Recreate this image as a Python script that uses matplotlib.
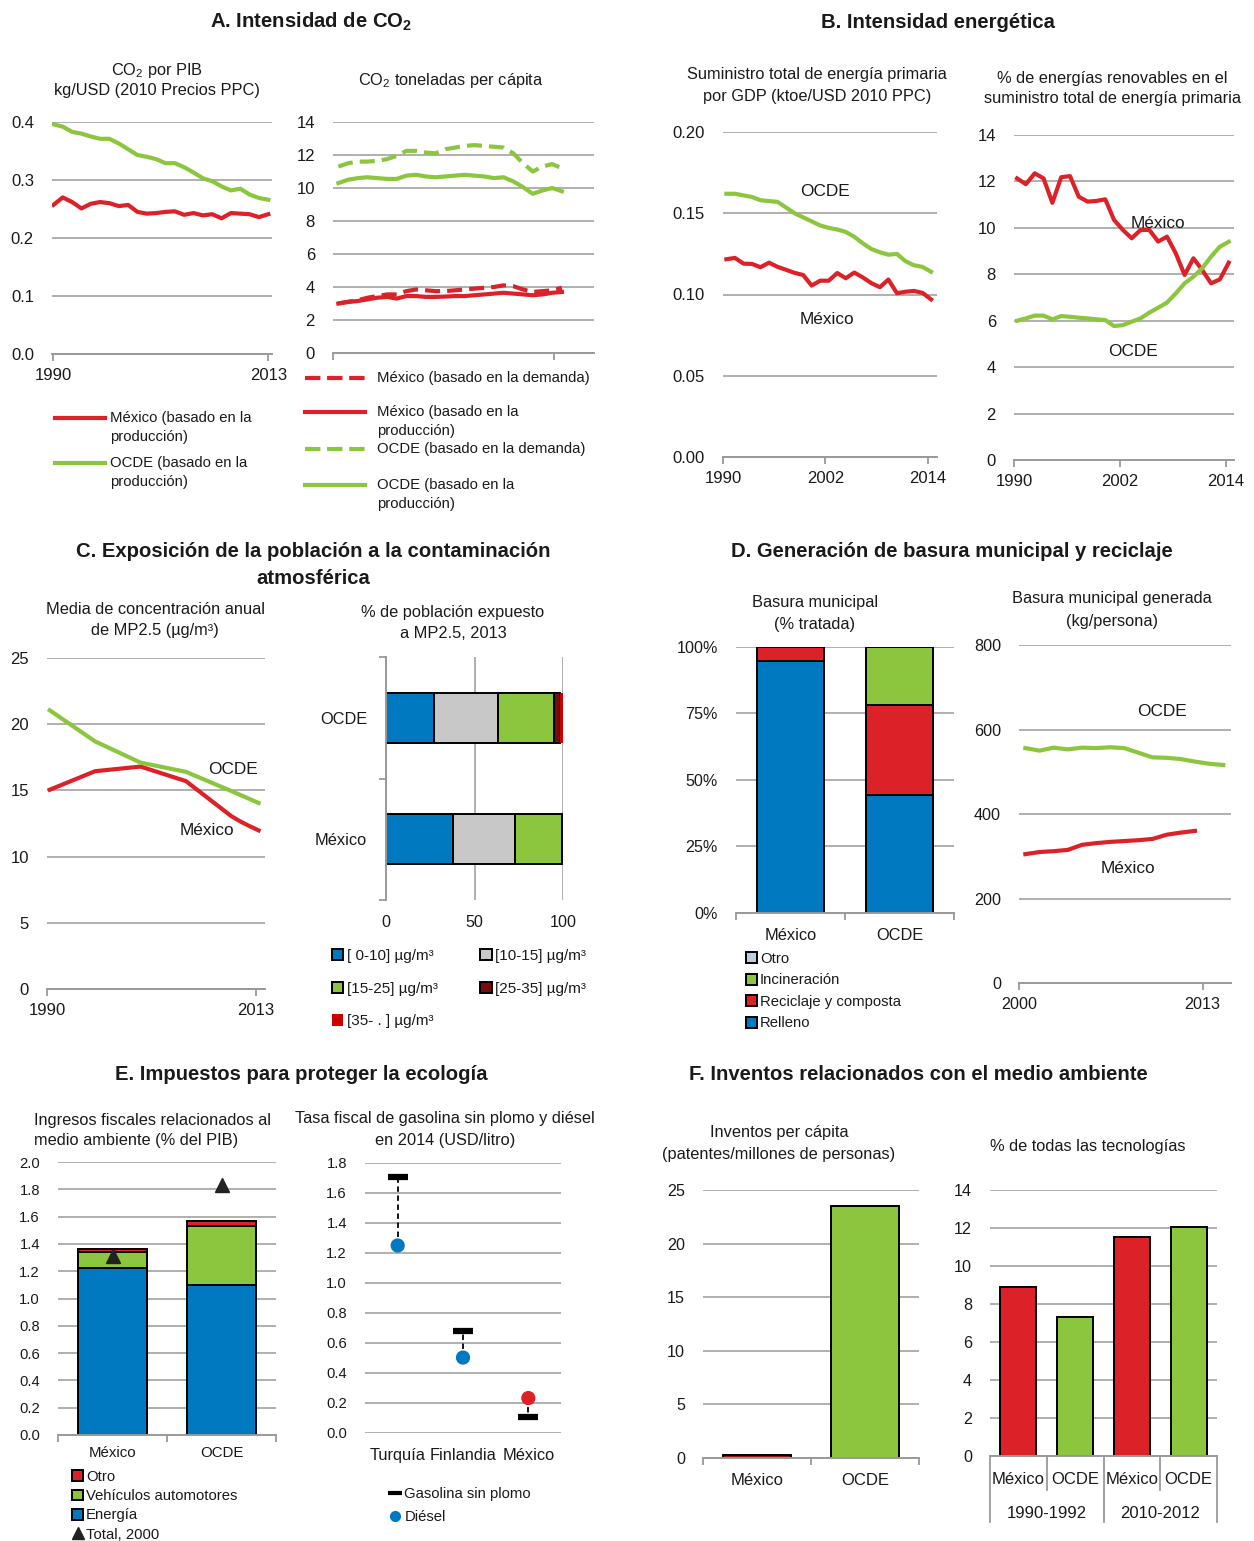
import matplotlib
matplotlib.use("Agg")
import matplotlib.pyplot as plt
from matplotlib.lines import Line2D
import numpy as np

plt.rcParams['font.family'] = ['Liberation Sans', 'DejaVu Sans']
plt.rcParams['mathtext.fontset'] = 'custom'
plt.rcParams['mathtext.rm'] = 'Liberation Sans'
plt.rcParams['mathtext.bf'] = 'Liberation Sans:bold'
plt.rcParams['mathtext.it'] = 'Liberation Sans:italic'
plt.rcParams['text.color'] = '#1a1a1a'
plt.rcParams['xtick.color'] = '#1a1a1a'
plt.rcParams['ytick.color'] = '#1a1a1a'

W, H = 1254, 1541
RED = '#DC2228'
GREEN = '#8CC63F'
BLUE = '#0079C1'
GREY = '#C8C8C8'
GRID = '#9A9A9A'
TITLE_FS = 14.6
SUB_FS = 11.8
LAB_FS = 12.4

#-------------------------------------------------------------------------------
# Data

years_a = np.arange(1990, 2014)
co2_gdp_oecd = [0.396, 0.392, 0.383, 0.380, 0.375, 0.371, 0.371, 0.363, 0.353, 0.343, 0.340, 0.336,
                0.329, 0.329, 0.322, 0.313, 0.303, 0.298, 0.289, 0.282, 0.285, 0.275, 0.269, 0.266]
co2_gdp_mex = [0.257, 0.270, 0.262, 0.251, 0.259, 0.262, 0.260, 0.255, 0.257, 0.245, 0.242, 0.243,
               0.245, 0.246, 0.240, 0.243, 0.239, 0.241, 0.234, 0.243, 0.242, 0.241, 0.236, 0.241]
co2_cap_oecd_dem = [11.3, 11.5, 11.6, 11.6, 11.65, 11.75, 11.95, 12.25, 12.25, 12.15, 12.1, 12.35,
                    12.45, 12.55, 12.6, 12.55, 12.5, 12.45, 12.1, 11.5, 11.0, 11.3, 11.45, 11.2]
co2_cap_oecd_prod = [10.3, 10.5, 10.6, 10.65, 10.6, 10.55, 10.55, 10.75, 10.8, 10.7, 10.65, 10.7,
                     10.75, 10.8, 10.75, 10.7, 10.6, 10.65, 10.4, 10.05, 9.65, 9.85, 10.0, 9.8]
co2_cap_mex_dem = [3.0, 3.1, 3.2, 3.35, 3.45, 3.55, 3.55, 3.75, 3.85, 3.8, 3.75, 3.75,
                   3.8, 3.85, 3.9, 3.95, 4.0, 4.1, 4.05, 3.85, 3.7, 3.75, 3.8, 3.95]
co2_cap_mex_prod = [3.0, 3.1, 3.15, 3.25, 3.35, 3.4, 3.3, 3.45, 3.45, 3.4, 3.4, 3.42,
                    3.45, 3.45, 3.5, 3.55, 3.6, 3.65, 3.6, 3.55, 3.5, 3.55, 3.65, 3.7]

years_b = np.arange(1990, 2015)
tpes_gdp_oecd = [0.162, 0.162, 0.161, 0.160, 0.158, 0.1575, 0.157, 0.1535, 0.150, 0.1475, 0.145, 0.1425,
                 0.141, 0.140, 0.1385, 0.1355, 0.1315, 0.128, 0.126, 0.1245, 0.125, 0.1205, 0.118, 0.117, 0.114]
tpes_gdp_mex = [0.1217, 0.1225, 0.119, 0.1188, 0.1168, 0.1196, 0.117, 0.1152, 0.1133, 0.112, 0.1055, 0.1085,
                0.1085, 0.1132, 0.110, 0.1135, 0.1105, 0.107, 0.1045, 0.1092, 0.1008, 0.1017, 0.1022, 0.101, 0.097]
renew_mex = [12.13, 11.88, 12.35, 12.13, 11.08, 12.18, 12.23, 11.34, 11.13, 11.16, 11.23, 10.34, 9.91,
             9.55, 9.91, 9.91, 9.41, 9.62, 8.9, 7.97, 8.69, 8.18, 7.61, 7.78, 8.5]
renew_oecd = [6.0, 6.1, 6.22, 6.22, 6.06, 6.2, 6.17, 6.13, 6.1, 6.06, 6.03, 5.77, 5.81,
              5.96, 6.1, 6.35, 6.56, 6.78, 7.18, 7.61, 7.9, 8.26, 8.76, 9.19, 9.4]

years_c = np.array([1990, 1995, 2000, 2005, 2010, 2011, 2012, 2013])
pm25_oecd = [21.05, 18.7, 17.1, 16.4, 14.95, 14.65, 14.35, 14.05]
pm25_mex = [15.05, 16.45, 16.8, 15.7, 13.05, 12.65, 12.3, 11.98]

pm_bins = ['[ 0-10] µg/m³', '[10-15] µg/m³', '[15-25] µg/m³', '[25-35] µg/m³', '[35- . ] µg/m³']
pm_share_mex = [37.7, 35.3, 26.4, 0.6, 0.0]
pm_share_oecd = [27.4, 35.6, 31.7, 3.8, 1.5]

waste_cats = ['México', 'OCDE']
waste_landfill = [94.9, 44.2]
waste_recycling = [5.1, 34.1]
waste_incineration = [0.0, 21.7]
waste_other = [0.0, 0.0]

years_d_oecd = np.arange(2000, 2015)
waste_gen_oecd = [556, 550, 557, 553, 557, 556, 558, 556, 545, 534, 533, 530, 524, 519, 516]
years_d_mex = np.arange(2000, 2013)
waste_gen_mex = [305, 310, 312, 315, 327, 331, 334, 336, 338, 341, 351, 356, 360]

tax_cats = ['México', 'OCDE']
tax_energy = [1.22, 1.10]
tax_vehicles = [0.12, 0.43]
tax_other = [0.025, 0.04]
tax_total_2000 = [1.31, 1.83]

fuel_countries = ['Turquía', 'Finlandia', 'México']
fuel_petrol = [1.707, 0.678, 0.104]
fuel_diesel = [1.25, 0.503, 0.233]

pat_cats = ['México', 'OCDE']
pat_per_capita = [0.3, 23.5]

tech_periods = ['1990-1992', '2010-2012']
tech_mex = [8.87, 11.54]
tech_oecd = [7.29, 12.03]

#-------------------------------------------------------------------------------

def px(l, t, r, b):
  """ Axes rectangle from pixel box (left, top, right, bottom). """
  return [l/W, 1 - b/H, (r - l)/W, (b - t)/H]

def ftext(fig, x, y, s, **kwargs):
  """ Figure text at pixel position. """
  kw = dict(ha='center', va='center', fontsize=SUB_FS)
  kw.update(kwargs)
  return fig.text(x/W, 1 - y/H, s, **kw)

def style_ax(ax, ylim, yticks, ylabels=None, fs=12):
  """ Excel-like look: horizontal grid, grey bottom axis, no frame. """
  ax.set_ylim(*ylim)
  ax.set_yticks(yticks)
  if ylabels is not None:
    ax.set_yticklabels(ylabels)
  for s in ['top', 'right', 'left']:
    ax.spines[s].set_visible(False)
  ax.spines['bottom'].set_color(GRID)
  ax.spines['bottom'].set_linewidth(1.4)
  ax.grid(True, axis='y', color=GRID, lw=1.1)
  ax.set_axisbelow(True)
  ax.tick_params(axis='y', length=0, pad=13, labelsize=fs)
  ax.tick_params(axis='x', which='both', length=5, width=1.3, color=GRID, labelsize=fs, pad=5)

def cat_ticks(ax, n, labels, fs=12, pad=5):
  """ Category labels centred, tick marks between the categories. """
  ax.set_xlim(-0.5, n - 0.5)
  ax.set_xticks(np.arange(n))
  ax.set_xticklabels(labels)
  ax.set_xticks(np.arange(n + 1) - 0.5, minor=True)
  ax.tick_params(axis='x', which='major', length=0, labelsize=fs, pad=pad)

def legend_line(fig, line, x0, x1, y, text, tx, fs=10.7):
  """ Excel-style legend entry: handle aligned with the first text line. """
  fig.add_artist(Line2D([x0/W, x1/W], [1 - y/H]*2, transform=fig.transFigure,
                        color=line.get_color(), ls=line.get_linestyle(), lw=line.get_linewidth()))
  for i, part in enumerate(text.split("\n")):
    ftext(fig, tx, y + i*19, part, ha='left', fontsize=fs)

def square_legend(ax, fig, handles, labels, x, y, fs=10.7, **kwargs):
  kw = dict(loc='upper left', bbox_to_anchor=(x/W, 1 - y/H), bbox_transform=fig.transFigure,
            frameon=False, borderpad=0, borderaxespad=0, fontsize=fs,
            handlelength=0.75, handleheight=0.75, handletextpad=0.2)
  kw.update(kwargs)
  return ax.legend(handles, labels, **kw)

#-------------------------------------------------------------------------------

def plot_a(fig):
  ftext(fig, 311, 22, r"A. Intensidad de CO$_\mathbf{2}$", fontsize=TITLE_FS, fontweight='bold')
  ftext(fig, 157, 70, r"CO$_2$ por PIB")
  ftext(fig, 157, 91, "kg/USD (2010 Precios PPC)")
  ftext(fig, 451, 80, r"CO$_2$ toneladas per cápita")

  ax = fig.add_axes(px(52, 122, 272, 354))
  l_mex, = ax.plot(years_a, co2_gdp_mex, color=RED, lw=3)
  l_oecd, = ax.plot(years_a, co2_gdp_oecd, color=GREEN, lw=3)
  style_ax(ax, (0, 0.4), np.arange(0, 0.41, 0.1), ["0.0", "0.1", "0.2", "0.3", "0.4"])
  ax.set_xlim(1989.85, 2013.4)
  ax.set_xticks([1990, 2013])
  legend_line(fig, l_mex, 55, 105, 418, "México (basado en la\nproducción)", 110)
  legend_line(fig, l_oecd, 55, 105, 463, "OCDE (basado en la\nproducción)", 110)

  ax = fig.add_axes(px(333, 122, 594, 353))
  dash = (0, (3.6, 1.7))
  l1, = ax.plot(years_a, co2_cap_mex_dem, color=RED, lw=3, ls=dash)
  l2, = ax.plot(years_a, co2_cap_mex_prod, color=RED, lw=3)
  l3, = ax.plot(years_a, co2_cap_oecd_dem, color=GREEN, lw=3, ls=dash)
  l4, = ax.plot(years_a, co2_cap_oecd_prod, color=GREEN, lw=3)
  style_ax(ax, (0, 14), np.arange(0, 15, 2))
  ax.set_xlim(1989.45, 2016.3)
  ax.set_xticks([1989.5, 2012.2])
  ax.set_xticklabels([])
  legend_line(fig, l1, 305, 365, 378, "México (basado en la demanda)", 377)
  legend_line(fig, l2, 305, 365, 412, "México (basado en la\nproducción)", 377)
  legend_line(fig, l3, 305, 365, 449, "OCDE (basado en la demanda)", 377)
  legend_line(fig, l4, 305, 365, 485, "OCDE (basado en la\nproducción)", 377)

def plot_b(fig):
  ftext(fig, 938, 22, "B. Intensidad energética", fontsize=TITLE_FS, fontweight='bold')
  ftext(fig, 817, 75, "Suministro total de energía primaria")
  ftext(fig, 817, 96, "por GDP (ktoe/USD 2010 PPC)")
  ftext(fig, 1112, 78, "% de energías renovables en el")
  ftext(fig, 1112, 99, "suministro total de energía primaria")

  ax = fig.add_axes(px(723, 132, 937, 457))
  ax.plot(years_b + 0.4, tpes_gdp_mex, color=RED, lw=3)
  ax.plot(years_b + 0.4, tpes_gdp_oecd, color=GREEN, lw=3)
  style_ax(ax, (0, 0.2), np.arange(0, 0.21, 0.05), ["0.00", "0.05", "0.10", "0.15", "0.20"])
  ax.set_xlim(1990, 2015.1)
  ax.set_xticks([1990, 2002, 2014])
  ftext(fig, 825, 192, "OCDE", fontsize=LAB_FS)
  ftext(fig, 827, 319, "México", fontsize=LAB_FS)

  ax = fig.add_axes(px(1014, 135, 1234, 460))
  ax.plot(years_b + 0.35, renew_mex, color=RED, lw=3)
  ax.plot(years_b + 0.35, renew_oecd, color=GREEN, lw=3)
  style_ax(ax, (0, 14), np.arange(0, 15, 2))
  ax.set_xlim(1990, 2014.95)
  ax.set_xticks([1990, 2002, 2014])
  ftext(fig, 1158, 224, "México", fontsize=LAB_FS)
  ftext(fig, 1133, 352, "OCDE", fontsize=LAB_FS)

def plot_c(fig):
  ftext(fig, 313, 552, "C. Exposición de la población a la contaminación", fontsize=TITLE_FS, fontweight='bold')
  ftext(fig, 313, 578, "atmosférica", fontsize=TITLE_FS, fontweight='bold')
  ftext(fig, 155, 609, "Media de concentración anual")
  ftext(fig, 155, 630, "de MP2.5 (µg/m³)")
  ftext(fig, 453, 612, "% de población expuesto")
  ftext(fig, 453, 633, "a MP2.5, 2013")

  ax = fig.add_axes(px(47, 658, 265, 989))
  ax.plot(years_c + 0.3, pm25_mex, color=RED, lw=3)
  ax.plot(years_c + 0.3, pm25_oecd, color=GREEN, lw=3)
  style_ax(ax, (0, 25), np.arange(0, 26, 5))
  ax.set_xlim(1990, 2014)
  ax.set_xticks([1990, 2013])
  ftext(fig, 233, 769, "OCDE", fontsize=LAB_FS)
  ftext(fig, 207, 830, "México", fontsize=LAB_FS)

  ax = fig.add_axes(px(386, 657, 563, 900))
  colors = [BLUE, GREY, GREEN, '#7B0B0B', '#CC0000']
  shares = np.array([pm_share_mex, pm_share_oecd])
  left = np.zeros(2)
  handles = []
  for i, label in enumerate(pm_bins):
    edge = 'black' if i < 4 else 'none'
    b = ax.barh([0, 1], shares[:, i], left=left, height=0.41, color=colors[i],
                edgecolor=edge, lw=1.4, label=label)
    handles.append(b)
    left += shares[:, i]
  ax.set_xlim(0, 100)
  ax.set_ylim(-0.5, 1.5)
  ax.set_yticks([0, 1])
  ax.set_yticklabels(['México', 'OCDE'])
  ax.set_yticks([-0.5, 0.5, 1.5], minor=True)
  ax.set_xticks([0, 50, 100])
  for s in ['top', 'right', 'bottom']:
    ax.spines[s].set_visible(False)
  ax.spines['left'].set_color(GRID)
  ax.spines['left'].set_linewidth(1.4)
  ax.grid(True, axis='x', color=GRID, lw=1.1)
  ax.set_axisbelow(True)
  ax.tick_params(axis='y', which='major', length=0, pad=13.5, labelsize=SUB_FS)
  ax.tick_params(axis='y', which='minor', length=5, width=1.3, color=GRID)
  ax.tick_params(axis='x', length=0, pad=11, labelsize=11.6)
  order = [0, 2, 4, 1, 3]
  square_legend(ax, fig, [handles[i] for i in order], [pm_bins[i] for i in order], 332, 949,
                fs=11, ncol=2, labelspacing=1.22, columnspacing=2.8)

def plot_d(fig):
  ftext(fig, 952, 552, "D. Generación de basura municipal y reciclaje", fontsize=TITLE_FS, fontweight='bold')
  ftext(fig, 815, 602, "Basura municipal")
  ftext(fig, 815, 624, "(% tratada)")
  ftext(fig, 1112, 599, "Basura municipal generada")
  ftext(fig, 1112, 621, "(kg/persona)")

  ax = fig.add_axes(px(736, 647, 954, 913))
  x = np.arange(len(waste_cats))
  bottom = np.zeros(2)
  handles = []
  for vals, color, name in [(waste_landfill, BLUE, 'Relleno'),
                            (waste_recycling, RED, 'Reciclaje y composta'),
                            (waste_incineration, GREEN, 'Incineración'),
                            (waste_other, '#B9CDE5', 'Otro')]:
    b = ax.bar(x, vals, bottom=bottom, width=0.62, color=color, edgecolor='black', lw=1.4, label=name)
    handles.append(b)
    bottom += np.array(vals)
  style_ax(ax, (0, 100), [0, 25, 50, 75, 100], ["0%", "25%", "50%", "75%", "100%"], fs=11.6)
  cat_ticks(ax, 2, waste_cats, fs=SUB_FS, pad=11)
  handles = handles[::-1]
  square_legend(ax, fig, handles, [h.get_label() for h in handles], 746, 952, labelspacing=0.5)

  ax = fig.add_axes(px(1019, 645, 1231, 983))
  ax.plot(years_d_oecd + 0.45, waste_gen_oecd, color=GREEN, lw=3)
  ax.plot(years_d_mex + 0.45, waste_gen_mex, color=RED, lw=3)
  style_ax(ax, (0, 800), np.arange(0, 801, 200), fs=11.6)
  ax.set_xlim(2000, 2015)
  ax.set_xticks([2000, 2013])
  ftext(fig, 1162, 712, "OCDE", fontsize=LAB_FS)
  ftext(fig, 1128, 868, "México", fontsize=LAB_FS)

def plot_e(fig):
  ftext(fig, 301, 1075, "E. Impuestos para proteger la ecología", fontsize=TITLE_FS, fontweight='bold')
  ftext(fig, 34, 1121, "Ingresos fiscales relacionados al", ha='left')
  ftext(fig, 34, 1141, "medio ambiente (% del PIB)", ha='left')
  ftext(fig, 445, 1119, "Tasa fiscal de gasolina sin plomo y diésel")
  ftext(fig, 445, 1140, "en 2014 (USD/litro)")

  tick_fmt = lambda vals: ["%.1f" % v for v in vals]
  ax = fig.add_axes(px(58, 1162, 276, 1435))
  x = np.arange(len(tax_cats))
  b1 = ax.bar(x, tax_energy, width=0.63, color=BLUE, edgecolor='black', lw=1.4, label='Energía')
  b2 = ax.bar(x, tax_vehicles, bottom=tax_energy, width=0.63, color=GREEN, edgecolor='black', lw=1.4,
              label='Vehículos automotores')
  b3 = ax.bar(x, tax_other, bottom=np.add(tax_energy, tax_vehicles), width=0.63, color=RED,
              edgecolor='black', lw=1.4, label='Otro')
  ax.plot(x, tax_total_2000, ls='', marker='^', ms=10, color='#222222')
  t = Line2D([], [], ls='', marker='^', ms=8, color='#222222')
  yt = np.arange(0, 2.01, 0.2)
  style_ax(ax, (0, 2.0), yt, tick_fmt(yt), fs=10.6)
  cat_ticks(ax, 2, tax_cats, fs=10.8, pad=8)
  square_legend(ax, fig, [b3, b2, b1, t], ['Otro', 'Vehículos automotores', 'Energía', 'Total, 2000'],
                72, 1470, labelspacing=0.35)

  ax = fig.add_axes(px(365, 1163, 561, 1433))
  x = np.arange(len(fuel_countries))
  ax.vlines(x, fuel_diesel, fuel_petrol, colors='black', linestyles=(0, (3, 2)), lw=1.3)
  ax.plot(x, fuel_petrol, ls='', marker='_', ms=15, mew=4.5, color='black')
  ax.scatter(x, fuel_diesel, s=85, c=[BLUE, BLUE, RED], zorder=3)
  p = Line2D([], [], ls='', marker='_', ms=10, mew=3, color='black')
  d = Line2D([], [], ls='', marker='o', ms=7, color=BLUE)
  yt = np.arange(0, 1.81, 0.2)
  style_ax(ax, (0, 1.8), yt, tick_fmt(yt), fs=10.6)
  ax.spines['bottom'].set_visible(False)
  ax.set_xlim(-0.5, 2.5)
  ax.set_xticks(x)
  ax.set_xticklabels(fuel_countries)
  ax.tick_params(axis='x', length=0, pad=11, labelsize=SUB_FS)
  square_legend(ax, fig, [p, d], ['Gasolina sin plomo', 'Diésel'], 388, 1487,
                handlelength=0.9, labelspacing=0.6)

def plot_f(fig):
  ftext(fig, 918, 1075, "F. Inventos relacionados con el medio ambiente", fontsize=TITLE_FS, fontweight='bold')
  ftext(fig, 779, 1133, "Inventos per cápita")
  ftext(fig, 779, 1154, "(patentes/millones de personas)")
  ftext(fig, 1088, 1146, "% de todas las tecnologías")

  ax = fig.add_axes(px(703, 1190, 919, 1458))
  x = np.arange(len(pat_cats))
  ax.bar(x, pat_per_capita, width=0.63, color=['#8B1A1A', GREEN], edgecolor='black', lw=1.4)
  style_ax(ax, (0, 25), np.arange(0, 26, 5), fs=11.6)
  cat_ticks(ax, 2, pat_cats, fs=12, pad=11)

  ax = fig.add_axes(px(990, 1190, 1217, 1456))
  xm = np.array([0, 2])
  ax.bar(xm, tech_mex, width=0.63, color=RED, edgecolor='black', lw=1.4)
  ax.bar(xm + 1, tech_oecd, width=0.63, color=GREEN, edgecolor='black', lw=1.4)
  style_ax(ax, (0, 14), np.arange(0, 15, 2), fs=11.6)
  ax.set_xlim(-0.5, 3.5)
  ax.set_xticks([])
  tr = ax.get_xaxis_transform()
  for xb in [-0.5, 1.5, 3.5]:
    ax.plot([xb, xb], [0, -0.248], transform=tr, clip_on=False, color=GRID, lw=1.3)
  for xb in [0.5, 2.5]:
    ax.plot([xb, xb], [0, -0.128], transform=tr, clip_on=False, color=GRID, lw=1.3)
  for i, lab in enumerate(['México', 'OCDE', 'México', 'OCDE']):
    ax.text(i, -0.088, lab, transform=tr, ha='center', va='center', fontsize=12)
  for i, per in enumerate(tech_periods):
    ax.text(2*i + 0.5, -0.215, per, transform=tr, ha='center', va='center', fontsize=12)

#-------------------------------------------------------------------------------

def main():
  fig = plt.figure(figsize=(W/100, H/100), dpi=100)
  plot_a(fig)
  plot_b(fig)
  plot_c(fig)
  plot_d(fig)
  plot_e(fig)
  plot_f(fig)
  fig.savefig("out.png", dpi=100, facecolor='white')
  plt.close(fig)

if __name__ == "__main__":
  main()
